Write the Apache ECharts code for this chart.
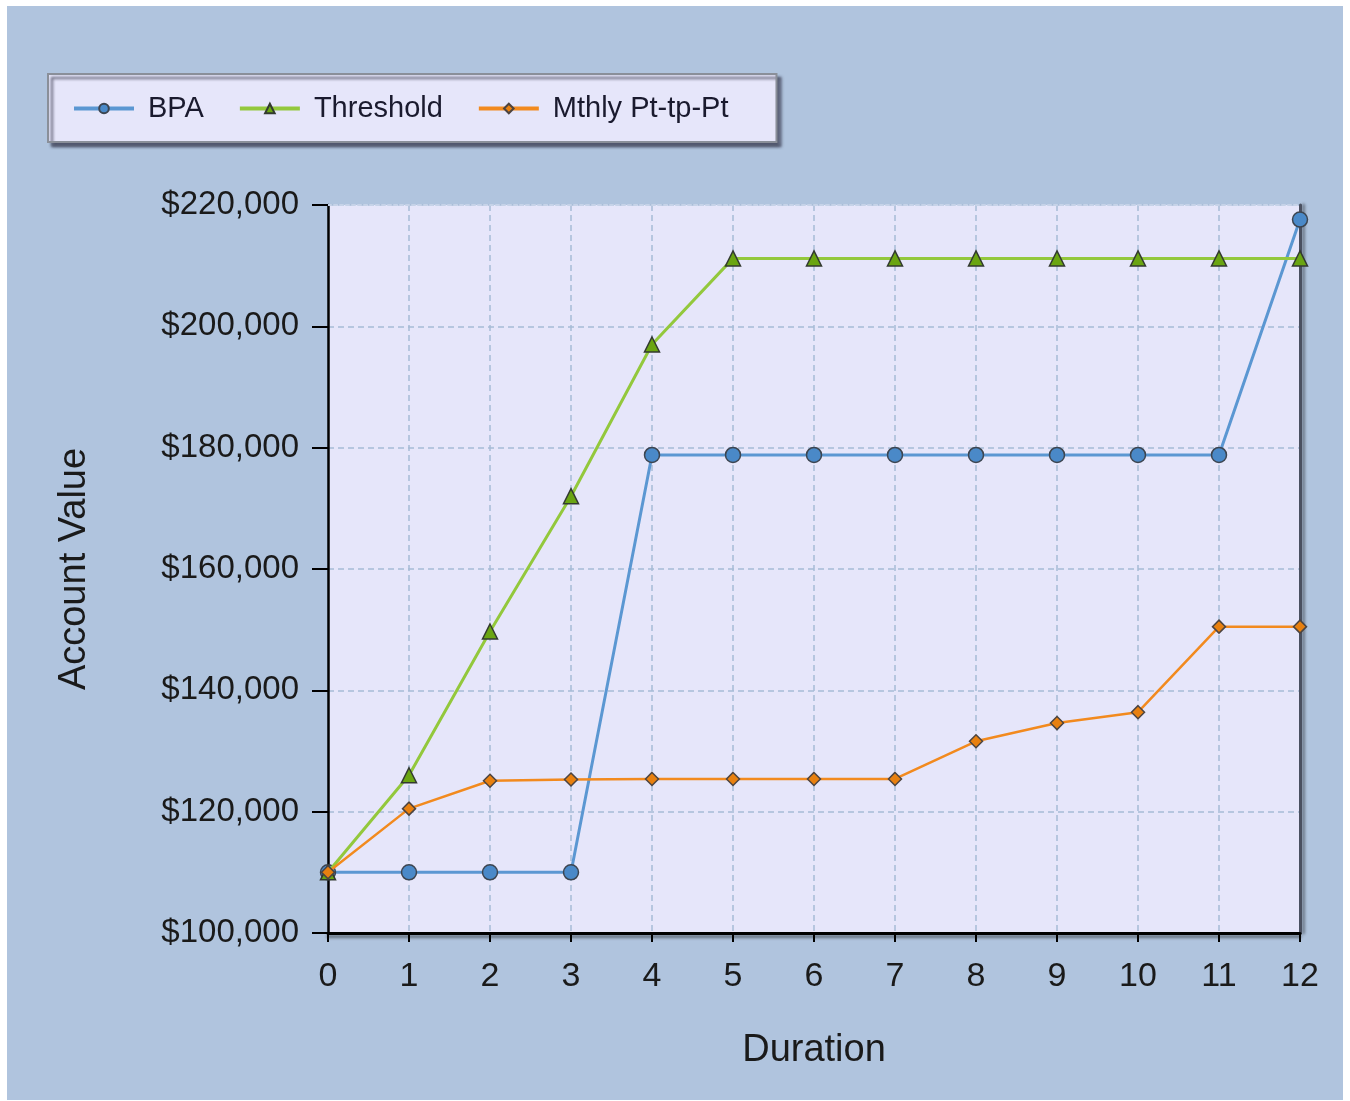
<!DOCTYPE html>
<html>
<head>
<meta charset="utf-8">
<script src="https://cdn.jsdelivr.net/npm/echarts@6/dist/echarts.min.js"></script>
<style>
  html, body { margin: 0; padding: 0; background: #ffffff; width: 1350px; height: 1101px; overflow: hidden; }
  #chart { position: absolute; left: 7px; top: 6px; width: 1336px; height: 1094px; }
</style>
</head>
<body>
<div id="chart"></div>
<script>
const durations = ['0','1','2','3','4','5','6','7','8','9','10','11','12'];
const bpa       = [110000,110000,110000,110000,178800,178800,178800,178800,178800,178800,178800,178800,217600];
const threshold = [110000,126000,149700,172000,197000,211200,211200,211200,211200,211200,211200,211200,211200];
const mthly     = [110000,120500,125100,125300,125400,125400,125400,125400,131600,134600,136400,150500,150500];
const seriesNames = ['BPA','Threshold','Mthly Pt-tp-Pt'];
const yMin = 100000, yMax = 220000, yStep = 20000;

const FONT = '"Liberation Sans", Arial, sans-serif';
const chart = echarts.init(document.getElementById('chart'));

function fmt(v) {
  return '$' + v.toString().replace(/\B(?=(\d{3})+(?!\d))/g, ',');
}

chart.setOption({
  backgroundColor: '#B0C4DE',
  animation: false,
  textStyle: { fontFamily: FONT },
  legend: {
    left: 41, top: 68,
    orient: 'horizontal',
    backgroundColor: '#E6E6FA',
    borderColor: '#8a8f99',
    borderWidth: 2,
    padding: [20, 48, 19, 24],
    shadowColor: 'rgba(40,40,60,0.7)',
    shadowBlur: 3,
    shadowOffsetX: 4,
    shadowOffsetY: 4,
    itemWidth: 60,
    itemHeight: 12,
    itemGap: 34,
    lineStyle: { width: 4 },
    textStyle: { fontSize: 29, color: '#1a1a2e', fontFamily: FONT, padding: [0, 0, 0, 9] },
    data: seriesNames
  },
  grid: {
    left: 321, top: 199, right: 43, bottom: 167,
    show: true,
    backgroundColor: '#E6E6FA',
    borderWidth: 0
  },
  xAxis: [{
    type: 'category',
    data: durations,
    boundaryGap: false,
    name: 'Duration',
    nameLocation: 'middle',
    nameGap: 99,
    nameTextStyle: { fontSize: 38, color: '#1a1a1a', fontFamily: FONT },
    axisLine: { show: true, onZero: false, lineStyle: { color: '#000', width: 3, shadowColor: 'rgba(0,0,0,0.45)', shadowBlur: 3, shadowOffsetY: 3 } },
    axisTick: { show: true, alignWithLabel: true, interval: 0, length: 9, lineStyle: { color: '#000', width: 2 } },
    axisLabel: { fontSize: 34, color: '#1a1a1a', margin: 27, interval: 0, fontFamily: FONT },
    splitLine: { show: true, interval: 0, lineStyle: { color: '#A7BCD6', width: 1.5, type: [6, 4] } }
  }, {
    type: 'category',
    data: durations,
    boundaryGap: false,
    position: 'top',
    axisLine: { show: true, lineStyle: { color: '#C6D3E8', width: 2, type: [3, 3] } },
    axisTick: { show: false },
    axisLabel: { show: false },
    splitLine: { show: false }
  }],
  yAxis: [{
    type: 'value',
    min: yMin, max: yMax, interval: yStep,
    name: 'Account Value',
    nameLocation: 'middle',
    nameGap: 234,
    nameRotate: 90,
    nameTextStyle: { fontSize: 38, color: '#1a1a1a', fontFamily: FONT },
    axisLine: { show: true, lineStyle: { color: '#000', width: 2.5 } },
    axisTick: { show: true, length: 16, lineStyle: { color: '#000', width: 2 } },
    axisLabel: { fontSize: 33, color: '#1a1a1a', margin: 29, formatter: fmt, fontFamily: FONT },
    splitLine: { show: true, lineStyle: { color: '#A7BCD6', width: 1.5, type: [6, 4] } }
  }, {
    type: 'value',
    min: yMin, max: yMax, interval: yStep,
    position: 'right',
    axisLine: { show: true, lineStyle: { color: '#4a5060', width: 3, shadowColor: 'rgba(0,0,0,0.4)', shadowBlur: 3, shadowOffsetX: 3 } },
    axisTick: { show: false },
    axisLabel: { show: false },
    splitLine: { show: false }
  }],
  series: [{
    name: seriesNames[0],
    type: 'line',
    data: bpa,
    symbol: 'circle',
    symbolSize: 15,
    lineStyle: { color: '#5B97D2', width: 3 },
    itemStyle: { color: '#4A89C8', borderColor: '#3d4550', borderWidth: 1.5 },
    z: 3
  }, {
    name: seriesNames[1],
    type: 'line',
    data: threshold,
    symbol: 'triangle',
    symbolSize: 15,
    lineStyle: { color: '#93C83C', width: 3 },
    itemStyle: { color: '#6AA512', borderColor: '#333a30', borderWidth: 1.5 },
    z: 4
  }, {
    name: seriesNames[2],
    type: 'line',
    data: mthly,
    symbol: 'diamond',
    symbolSize: 13,
    lineStyle: { color: '#F28A1E', width: 2.5 },
    itemStyle: { color: '#E8800F', borderColor: '#4d4440', borderWidth: 1.5 },
    z: 5
  }]
});
</script>
</body>
</html>
